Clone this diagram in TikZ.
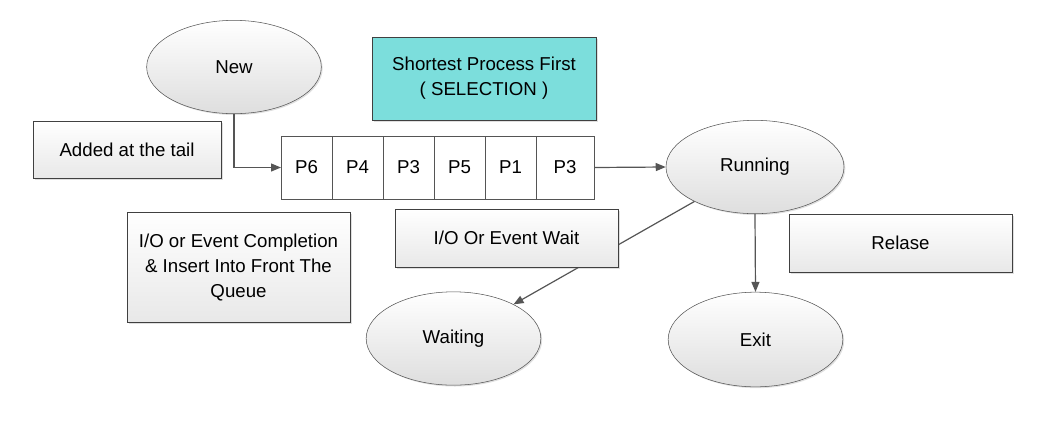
\documentclass[tikz,border=0pt]{standalone}
\usepackage{fontspec}
\setmainfont{Liberation Sans}
\usetikzlibrary{positioning,shapes.geometric,shadows}
\usetikzlibrary{arrows.meta}
\definecolor{LineGray}{RGB}{85,85,85}
\definecolor{SelCyan}{RGB}{124,222,220}
\tikzset{
  state/.style={ellipse,draw=LineGray,top color=white,bottom color=black!13,
    minimum width=131pt,minimum height=70pt,inner sep=0pt,
    drop shadow={shadow xshift=1pt,shadow yshift=-1pt,opacity=0.25}},
  note/.style={rectangle,draw=black!75,top color=white,bottom color=black!9,
    minimum width=167.25pt,minimum height=43.5pt,align=center,inner sep=2pt,
    drop shadow={shadow xshift=1.5pt,shadow yshift=-1.5pt,opacity=0.25}},
  cell/.style={rectangle,draw=LineGray,fill=white,outer sep=0pt,
    minimum width=38.25pt,minimum height=47.25pt,inner sep=0pt},
  arr/.style={draw=LineGray,line width=0.9pt,-{Triangle[length=7.5pt,width=6pt]}},
}
\begin{document}
\begin{tikzpicture}[x=0.75pt,y=-0.75pt,font=\fontsize{14}{18.75}\selectfont]
\useasboundingbox (0,0) rectangle (1054,430);
% states
\node[state] (new) at (234,67) {New};
\node[state,minimum width=133.5pt] (run) at (755,167) {Running};
\node[state] (wait) at (453.5,338.5) {Waiting};
\node[state,minimum height=71pt] (exit) at (755.5,339.5) {Exit};
% ready queue
\node[cell] (q1) at (306.5,167.5) {P6};
\foreach \lab [count=\i from 2] in {P4,P3,P5,P1}{
  \pgfmathtruncatemacro\j{\i-1}
  \node[cell,right=0pt of q\j] (q\i) {\lab};
}
\node[cell,minimum width=43.5pt,right=0pt of q5] (q6) {P3};
% transitions
\draw[arr] (new.south) |- (q1.west);
\draw[arr] (q6.east) -- (run.west);
\draw[arr] (run) -- (wait);
\draw[arr] (run.south) -- (exit.north);
% labels
\node[note,minimum width=141pt,minimum height=42.75pt] (tail) at (127,149.5) {Added at the tail};
\node[note,top color=SelCyan,bottom color=SelCyan,minimum width=168pt,minimum height=62.25pt] (sel) at (484,78.5) {Shortest Process First\\( SELECTION )};
\node[note] (iowait) at (506.5,238) {I/O Or Event Wait};
\node[note] (rel) at (900.5,243) {Relase};
\node[note,minimum height=82.5pt] (ioend) at (238.5,267) {I/O or Event Completion\\\& Insert Into Front The\\Queue};
\end{tikzpicture}
\end{document}
